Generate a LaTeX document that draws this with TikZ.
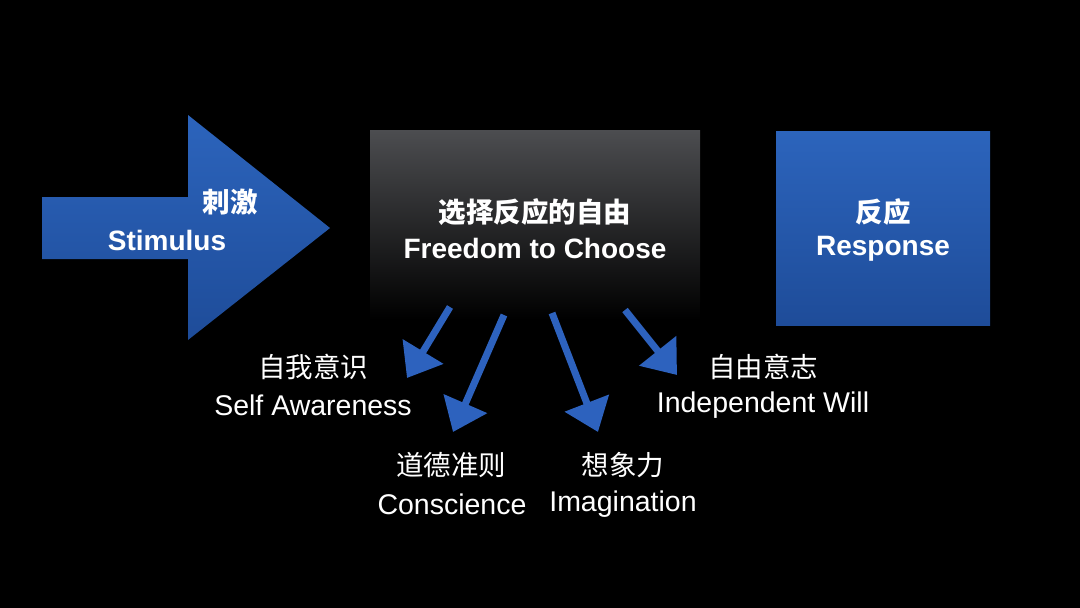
\documentclass[tikz,border=0pt]{standalone}
\usepackage{fontspec}
\setmainfont{Liberation Sans}
\newfontfamily\cjk{Noto Sans CJK SC}
\usetikzlibrary{arrows.meta}
\definecolor{bluetop}{HTML}{2C64BC}
\definecolor{bluebot}{HTML}{1E4C99}
\definecolor{arrowblue}{HTML}{2D62BE}
\definecolor{graytop}{HTML}{4C4D50}
\tikzset{
  big/.style={text=white,font=\fontsize{28}{30}\selectfont\bfseries,inner sep=0pt},
  bigcjk/.style={text=white,font=\cjk\bfseries\fontsize{27.5}{30}\selectfont,inner sep=0pt},
  small/.style={text=white,font=\fontsize{28.5}{30}\selectfont,inner sep=0pt},
  smallcjk/.style={text=white,font=\cjk\fontsize{27.5}{30}\selectfont,inner sep=0pt},
  conn/.style={draw=arrowblue,line width=7pt,-{Triangle[length=31pt,width=46pt]}},
}
\begin{document}
\begin{tikzpicture}[x=1pt,y=-1pt]
\fill[black] (0,0) rectangle (1080,608);
\useasboundingbox (0,0) rectangle (1080,608);
% big stimulus arrow
\shade[top color=bluetop,bottom color=bluebot]
  (42,197) -- (188,197) -- (188,115) -- (330,228) -- (188,340) -- (188,259) -- (42,259) -- cycle;
\node[bigcjk] (cizi) at (230,202) {刺激};
\node[big] (stim) at (167,240) {Stimulus};
% center box
\node[minimum width=330pt,minimum height=190pt,inner sep=0pt,top color=graytop,bottom color=black] (box) at (535,225) {};
\node[bigcjk] (ch) at (535,212) {选择反应的自由};
\node[big] (fc) at (535,248) {Freedom to Choose};
% response box
\node[minimum width=214pt,minimum height=194pt,inner sep=0pt,top color=bluetop,bottom color=bluebot] (resp) at (883,228) {};
\node[bigcjk] (fy) at (883,212) {反应};
\node[big] (rs) at (883,249) {Response};
% small arrows
\coordinate (s1) at (450,307); \coordinate (t1) at (407,378);
\coordinate (s2) at (504,315); \coordinate (t2) at (453,432);
\coordinate (s3) at (552,313); \coordinate (t3) at (598,432);
\coordinate (s4) at (625,310); \coordinate (t4) at (677,375);
\draw[conn] (s1) -- (t1);
\draw[conn] (s2) -- (t2);
\draw[conn] (s3) -- (t3);
\draw[conn] (s4) -- (t4);
% labels
\node[smallcjk] (l1c) at (313,367) {自我意识};
\node[small] (l1) at (313,405) {Self Awareness};
\node[smallcjk] (l2c) at (451,465) {道德准则};
\node[small] (l2) at (452,504) {Conscience};
\node[smallcjk] (l3c) at (623,465) {想象力};
\node[small] (l3) at (623,504) {Imagination};
\node[smallcjk] (l4c) at (763,367) {自由意志};
\node[small] (l4) at (763,405) {Independent Will};
\end{tikzpicture}
\end{document}
